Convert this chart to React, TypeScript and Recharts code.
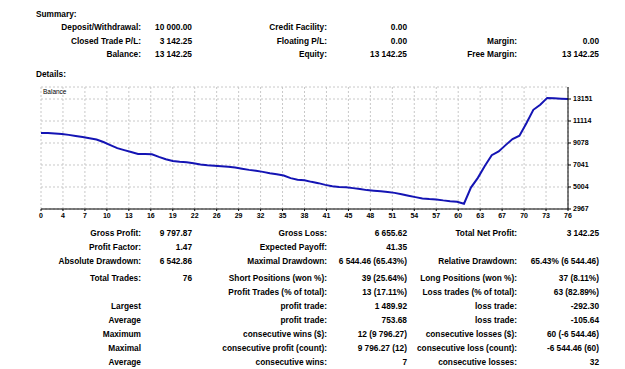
import React from "react";
import { LineChart, Line, CartesianGrid, XAxis, YAxis } from "recharts";

// balance after each closed trade (index 0 = initial deposit)
const balance = [
  10000, 10001.6, 9965, 9905, 9830, 9725, 9625, 9520, 9395, 9165, 8885, 8600, 8420, 8250, 8070, 8055,
  8040, 7790, 7570, 7420, 7345, 7285, 7205, 7085, 7020, 6970, 6925, 6880, 6815, 6700, 6590, 6500,
  6405, 6275, 6180, 6060, 5825, 5685, 5630, 5480, 5360, 5200, 5070, 5015, 4980, 4900, 4820, 4715,
  4660, 4600, 4530, 4460, 4330, 4195, 4065, 3935, 3885, 3850, 3765, 3695, 3640, 3457.14, 4947.06,
  5850, 6950, 7950, 8300, 8880, 9450, 9760, 10900, 12150, 12620, 13253.41, 13225, 13185, 13142.25,
];

const xTickLabels = ["0", "4", "7", "10", "13", "16", "19", "22", "26", "29", "32", "35", "38", "41", "45", "48", "51", "54", "57", "60", "63", "67", "70", "73", "76"];
const yTicks = [2967, 5004, 7041, 9078, 11114, 13151];
const yMax = 14262;

const summaryRows = [
  ["Deposit/Withdrawal:", "10 000.00", "Credit Facility:", "0.00", "", ""],
  ["Closed Trade P/L:", "3 142.25", "Floating P/L:", "0.00", "Margin:", "0.00"],
  ["Balance:", "13 142.25", "Equity:", "13 142.25", "Free Margin:", "13 142.25"],
];

const detailRows = [
  ["Gross Profit:", "9 797.87", "Gross Loss:", "6 655.62", "Total Net Profit:", "3 142.25"],
  ["Profit Factor:", "1.47", "Expected Payoff:", "41.35", "", ""],
  ["Absolute Drawdown:", "6 542.86", "Maximal Drawdown:", "6 544.46 (65.43%)", "Relative Drawdown:", "65.43% (6 544.46)"],
  ["Total Trades:", "76", "Short Positions (won %):", "39 (25.64%)", "Long Positions (won %):", "37 (8.11%)"],
  ["", "", "Profit Trades (% of total):", "13 (17.11%)", "Loss trades (% of total):", "63 (82.89%)"],
  ["Largest", "", "profit trade:", "1 489.92", "loss trade:", "-292.30"],
  ["Average", "", "profit trade:", "753.68", "loss trade:", "-105.64"],
  ["Maximum", "", "consecutive wins ($):", "12 (9 796.27)", "consecutive losses ($):", "60 (-6 544.46)"],
  ["Maximal", "", "consecutive profit (count):", "9 796.27 (12)", "consecutive loss (count):", "-6 544.46 (60)"],
  ["Average", "", "consecutive wins:", "7", "consecutive losses:", "32"],
];

const summaryY = [27, 40.7, 54];
const detailY = [233, 247, 261, 278, 292, 306, 320, 334, 348, 362];
const colRight = [141, 192, 327, 407, 517, 599];

const font = "'Liberation Sans', Arial, sans-serif";

function Row({ cells, y }: { cells: string[]; y: number }) {
  return (
    <>
      {cells.map((c, i) =>
        c ? (
          <div
            key={i}
            style={{
              position: "absolute",
              left: colRight[i] - 300,
              width: 300,
              top: y - 5,
              height: 10,
              lineHeight: "10px",
              textAlign: "right",
              whiteSpace: "nowrap",
            }}
          >
            {c}
          </div>
        ) : null
      )}
    </>
  );
}

export default function App() {
  const data = balance.map((b, i) => ({ trade: i, balance: b }));
  const last = balance.length - 1;
  const xTicks = xTickLabels.map((_, i) => (i * last) / (xTickLabels.length - 1));

  return (
    <div
      style={{
        position: "fixed",
        left: 0,
        top: 0,
        width: 625,
        height: 369,
        background: "#fff",
        fontFamily: font,
        fontSize: 8.3,
        fontWeight: "bold",
        color: "#000",
        overflow: "hidden",
      }}
    >
      <div style={{ position: "absolute", left: 36, top: 9, lineHeight: "10px" }}>Summary:</div>
      {summaryRows.map((r, i) => (
        <Row key={i} cells={r} y={summaryY[i]} />
      ))}
      <div style={{ position: "absolute", left: 36, top: 69, lineHeight: "10px" }}>Details:</div>

      <div style={{ position: "absolute", left: 0, top: 80 }}>
        <LineChart width={625} height={150} data={data} margin={{ top: 7, right: 12, left: 41, bottom: 7 }}>
          <CartesianGrid stroke="#c8c8c8" strokeDasharray="2 2" />
          <XAxis
            dataKey="trade"
            type="number"
            domain={[0, last]}
            ticks={xTicks}
            interval={0}
            tickFormatter={(_v: number, i: number) => xTickLabels[i]}
            tick={{ fontSize: 7, fill: "#000", fontFamily: font }}
            tickSize={2}
            height={14}
            stroke="#000"
          />
          <XAxis xAxisId="top" dataKey="trade" type="number" domain={[0, last]} orientation="top" tick={false} height={0} stroke="#444" />
          <YAxis
            orientation="right"
            type="number"
            domain={[yTicks[0], yMax]}
            ticks={yTicks}
            interval={0}
            tick={{ fontSize: 7, fill: "#000", fontFamily: font }}
            tickSize={3}
            width={45}
            stroke="#000"
          />
          <YAxis yAxisId="left" orientation="left" domain={[yTicks[0], yMax]} tick={false} width={0} stroke="#444" />
          <Line
            type="linear"
            dataKey="balance"
            stroke="#1414b4"
            strokeWidth={2}
            dot={false}
            isAnimationActive={false}
          />
        </LineChart>
        <div style={{ position: "absolute", left: 43, top: 8, fontSize: 6.5, fontWeight: "normal", lineHeight: "8px" }}>
          Balance
        </div>
      </div>

      {detailRows.map((r, i) => (
        <Row key={i} cells={r} y={detailY[i]} />
      ))}
    </div>
  );
}
